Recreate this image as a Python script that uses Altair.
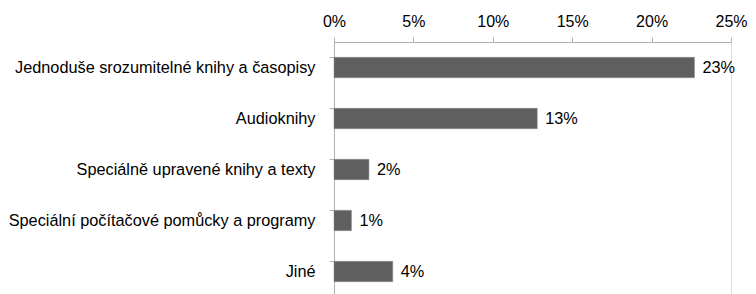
import altair as alt
import pandas as pd

categories = [
    "Jednoduše srozumitelné knihy a časopisy",
    "Audioknihy",
    "Speciálně upravené knihy a texty",
    "Speciální počítačové pomůcky a programy",
    "Jiné",
]
values = [0.227, 0.128, 0.022, 0.011, 0.037]
labels = ["23%", "13%", "2%", "1%", "4%"]

df = pd.DataFrame({"cat": categories, "val": values, "lab": labels})

FONT = "Liberation Sans"
FS = 16.3

y_enc = alt.Y(
    "cat:N",
    sort=categories,
    title=None,
    scale=alt.Scale(paddingInner=0.6, paddingOuter=0.3),
    axis=alt.Axis(
        labelFontSize=FS,
        labelFont=FONT,
        labelColor="#000000",
        labelPadding=14,
        tickSize=5,
        tickColor="#b0b0b0",
        domainColor="#b0b0b0",
        bandPosition=0,
        labelLimit=400,
    ),
)

bars = alt.Chart(df).mark_bar(color="#5f5f5f", stroke="#8a8a8a", strokeWidth=0.5).encode(
    x=alt.X(
        "val:Q",
        title=None,
        scale=alt.Scale(domain=[0, 0.25], nice=False),
        axis=alt.Axis(
            orient="top",
            format=".0%",
            values=[0, 0.05, 0.10, 0.15, 0.20, 0.25],
            grid=False,
            labelFlush=False,
            labelFontSize=16,
            labelFont=FONT,
            labelColor="#000000",
            tickSize=5,
            tickColor="#b0b0b0",
            domainColor="#b0b0b0",
            labelPadding=8,
        ),
    ),
    y=y_enc,
)

text = alt.Chart(df).mark_text(
    align="left", dx=8, fontSize=FS, font=FONT, color="#000000"
).encode(
    x="val:Q",
    y=alt.Y("cat:N", sort=categories),
    text="lab:N",
)

chart = (
    (bars + text)
    .properties(width=397, height=255, autosize=alt.AutoSizeParams(type="none"))
    .configure_view(stroke=None)
    .configure(padding={"left": 326, "top": 34, "right": 17, "bottom": 0})
)

chart.save("out.html", embed_options={"renderer": "svg", "actions": False})
